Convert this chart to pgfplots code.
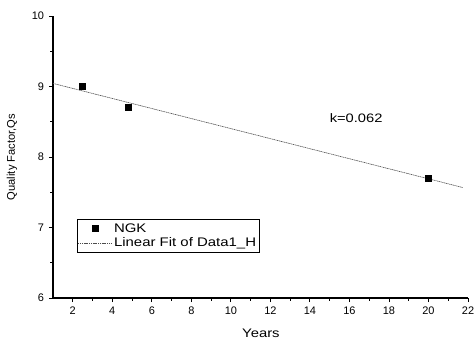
\documentclass[border=0pt]{standalone}
\usepackage{pgfplots}
\pgfplotsset{compat=1.18}
\usepackage{fontspec}
\setmainfont{Liberation Sans}
\newfontfamily\wide{Liberation Sans}[FakeStretch=1.2]
\pgfplotsset{longline/.style={legend image code/.code={\draw[##1] (-0.29cm,0cm) -- (0.89cm,0cm);}}}
\begin{document}
\begin{tikzpicture}
\begin{axis}[
  scale only axis,
  width=415bp, height=282bp,
  xmin=1, xmax=22, ymin=6, ymax=10,
  axis lines*=left,
  axis line style={line width=1.1pt},
  xtick={2,4,...,22}, ytick={6,7,8,9,10},
  minor x tick num=1, minor y tick num=1,
  tick align=outside,
  major tick length=4bp, minor tick length=2.5bp,
  tick style={line width=0.9pt, black},
  /pgf/number format/assume math mode=true,
  tick label style={font=\fontsize{11}{13}\selectfont},
  yticklabel style={xshift=-1.5bp},
  xticklabel style={yshift=-1.5bp},
  xlabel={Years}, ylabel={Quality Factor,Qs},
  xlabel style={font=\wide\fontsize{12.4}{14}\selectfont, at={(axis description cs:0.501,-0.124)}, anchor=center},
  ylabel style={font=\fontsize{11.2}{13}\selectfont, at={(axis description cs:-0.099,0.5)}, anchor=center},
  legend style={at={(axis description cs:0.057,0.28)}, anchor=north west,
    draw=black, line width=0.7pt, font=\wide\fontsize{12.5}{14}\selectfont,
    inner xsep=1pt, inner ysep=2pt, row sep=0pt, cells={anchor=west}},
  legend cell align=left,
]
\addplot[only marks, mark=square*, mark size=3pt, black] coordinates {
  (2.5,9.0) (4.8,8.7) (20,7.7)
};
\addlegendentry{NGK}
\addplot[gray!60!black, line width=0.6pt, dash pattern=on 1.2pt off 0.6pt, longline] coordinates {
  (1,9.044) (21.75,7.566)
};
\addlegendentry{Linear Fit of Data1\_H}
\node[font=\wide\fontsize{12.3}{14}\selectfont] at (axis cs:16.34,8.55) {k=0.062};
\end{axis}
\pgfresetboundingbox
\path (-53bp,-43bp) rectangle (422bp,298bp);
\end{tikzpicture}
\end{document}
